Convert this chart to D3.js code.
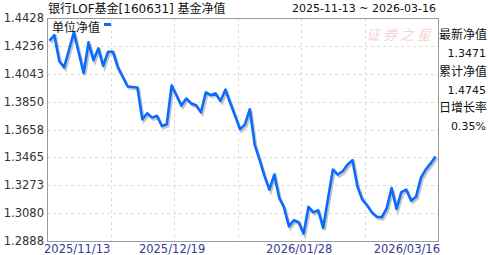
<!DOCTYPE html>
<html lang="zh-CN">

<head>
    <meta charset="UTF-8">
    <title>银行LOF基金[160631] 基金净值</title>
    <style>
        body {
            margin: 0;
            background: white;
        }

        text {
            font-family: "DejaVu Sans", "Noto Sans CJK SC", sans-serif;
        }

        .cjk {
            font-family: "Noto Sans CJK SC", sans-serif;
        }

        .grid line {
            stroke: #dcdcdc;
            stroke-dasharray: 3, 3;
        }
    </style>
</head>

<body>
    <div class="chart"></div>

    <script src="https://d3js.org/d3.v7.min.js"></script>
    <script>
        // Data (80 trading days)
        const dates = [
            "2025/11/13", "2025/11/14", "2025/11/17", "2025/11/18", "2025/11/19", "2025/11/20", "2025/11/21",
            "2025/11/24", "2025/11/25", "2025/11/26", "2025/11/27", "2025/11/28",
            "2025/12/01", "2025/12/02", "2025/12/03", "2025/12/04", "2025/12/05",
            "2025/12/08", "2025/12/09", "2025/12/10", "2025/12/11", "2025/12/12",
            "2025/12/15", "2025/12/16", "2025/12/17", "2025/12/18", "2025/12/19",
            "2025/12/22", "2025/12/23", "2025/12/24", "2025/12/25", "2025/12/26",
            "2025/12/29", "2025/12/30", "2025/12/31",
            "2026/01/05", "2026/01/06", "2026/01/07", "2026/01/08", "2026/01/09",
            "2026/01/12", "2026/01/13", "2026/01/14", "2026/01/15", "2026/01/16",
            "2026/01/19", "2026/01/20", "2026/01/21", "2026/01/22", "2026/01/23",
            "2026/01/26", "2026/01/27", "2026/01/28", "2026/01/29", "2026/01/30",
            "2026/02/02", "2026/02/03", "2026/02/04", "2026/02/05", "2026/02/06",
            "2026/02/09", "2026/02/10", "2026/02/11", "2026/02/12", "2026/02/13",
            "2026/02/24", "2026/02/25", "2026/02/26", "2026/02/27",
            "2026/03/02", "2026/03/03", "2026/03/04", "2026/03/05", "2026/03/06",
            "2026/03/09", "2026/03/10", "2026/03/11", "2026/03/12", "2026/03/13",
            "2026/03/16"
        ];

        const unitNav = [
            1.4271, 1.4310, 1.4132, 1.4087, 1.4208, 1.4329, 1.4188, 1.4047, 1.4260, 1.4137,
            1.4218, 1.4098, 1.4195, 1.4195, 1.4087, 1.4021, 1.3955, 1.3951, 1.3948, 1.3728,
            1.3770, 1.3740, 1.3753, 1.3682, 1.3694, 1.3962, 1.3893, 1.3823, 1.3872, 1.3838,
            1.3825, 1.3777, 1.3915, 1.3896, 1.3907, 1.3855, 1.3933, 1.3841, 1.3751, 1.3659,
            1.3694, 1.3798, 1.3552, 1.3448, 1.3336, 1.3243, 1.3347, 1.3188, 1.3119, 1.2989,
            1.3031, 1.3017, 1.2939, 1.3124, 1.3086, 1.3100, 1.2978, 1.3181, 1.3382, 1.3347,
            1.3370, 1.3417, 1.3446, 1.3266, 1.3175, 1.3135, 1.3084, 1.3056, 1.3052, 1.3113,
            1.3254, 1.3110, 1.3225, 1.3243, 1.3167, 1.3193, 1.3324, 1.3382, 1.3424, 1.3471
        ];

        const yTicks = [1.2888, 1.3080, 1.3273, 1.3465, 1.3658, 1.3850, 1.4043, 1.4236, 1.4428];
        const xLabelDates = ["2025/11/13", "2025/12/19", "2026/01/28", "2026/03/16"];

        const title = "银行LOF基金[160631] 基金净值";
        const rangeText = "2025-11-13 ~ 2026-03-16";
        const seriesName = "单位净值";
        const sideLabels = ["最新净值", "累计净值", "日增长率"];
        const sideValues = ["1.3471", "1.4745", "0.35%"];

        // Layout
        const width = 488;
        const height = 255;
        const plot = { left: 47, right: 438, top: 18, bottom: 241 };

        const svg = d3.select(".chart").append("svg")
            .attr("width", width)
            .attr("height", height);

        // Scales: each day gets a slot, points sit in the middle of their slot
        const x = d3.scaleBand()
            .domain(d3.range(dates.length))
            .range([plot.left, plot.right]);
        const xMid = i => x(i) + x.bandwidth() / 2;

        const y = d3.scaleLinear()
            .domain([yTicks[0], yTicks[yTicks.length - 1]])
            .range([plot.bottom, plot.top]);

        // Grid
        const grid = svg.append("g").attr("class", "grid");
        grid.selectAll(".h")
            .data(yTicks.slice(1, -1))
            .join("line")
            .attr("x1", plot.left)
            .attr("x2", plot.right)
            .attr("y1", d => Math.round(y(d)) + 0.5)
            .attr("y2", d => Math.round(y(d)) + 0.5);

        const gridIdx = d3.range(13, dates.length - 13, 13);
        grid.selectAll(".v")
            .data(gridIdx)
            .join("line")
            .attr("x1", d => Math.round(x(d)) + 0.5)
            .attr("x2", d => Math.round(x(d)) + 0.5)
            .attr("y1", plot.top)
            .attr("y2", plot.bottom);

        // Watermark
        svg.append("text")
            .attr("class", "cjk")
            .attr("x", 366)
            .attr("y", 40)
            .attr("font-size", 14)
            .attr("font-style", "italic")
            .attr("letter-spacing", 3)
            .attr("fill", "#f8d2d2")
            .text("证券之星");

        // Frame
        svg.append("rect")
            .attr("x", plot.left + 0.5)
            .attr("y", plot.top + 0.5)
            .attr("width", plot.right - plot.left)
            .attr("height", plot.bottom - plot.top)
            .attr("fill", "none")
            .attr("stroke", "#9a9a9a");

        // Line with its grey shadow
        const line = d3.line()
            .x((d, i) => xMid(i))
            .y(d => y(d));

        svg.append("path")
            .datum(unitNav)
            .attr("d", line)
            .attr("transform", "translate(1.5,2)")
            .attr("fill", "none")
            .attr("stroke", "#c4c4c4")
            .attr("stroke-width", 2.6);

        svg.append("path")
            .datum(unitNav)
            .attr("d", line)
            .attr("fill", "none")
            .attr("stroke", "#0a6cff")
            .attr("stroke-width", 2.6)
            .attr("stroke-linejoin", "round");

        // Y axis labels
        svg.append("g")
            .selectAll("text")
            .data(yTicks)
            .join("text")
            .attr("x", plot.left - 3)
            .attr("y", d => y(d) + 4)
            .attr("text-anchor", "end")
            .attr("font-family", "'Liberation Sans', Arial, sans-serif")
            .attr("font-size", 11.5)
            .attr("fill", "#333")
            .text(d => d.toFixed(4));

        // X axis labels
        svg.append("g")
            .selectAll("text")
            .data(xLabelDates)
            .join("text")
            .attr("x", (d, i) => {
                const idx = dates.indexOf(d);
                if (i === 0) return plot.left - 3;
                if (i === xLabelDates.length - 1) return plot.right + 2;
                return x(idx) - 2;
            })
            .attr("y", 252.5)
            .attr("text-anchor", (d, i) => i === 0 ? "start" : (i === xLabelDates.length - 1 ? "end" : "middle"))
            .attr("font-family", "'Liberation Sans', Arial, sans-serif")
            .attr("font-size", 11.5)
            .attr("fill", "#3a3a9a")
            .text(d => d);

        // Titles
        svg.append("text")
            .attr("x", 48)
            .attr("y", 13)
            .attr("font-family", "'Liberation Sans', 'Noto Sans CJK SC', sans-serif")
            .attr("font-size", 12)
            .attr("fill", "#111")
            .text(title);

        svg.append("text")
            .attr("x", plot.right - 2)
            .attr("y", 12)
            .attr("text-anchor", "end")
            .attr("font-size", 11)
            .attr("fill", "#111")
            .text(rangeText);

        // Legend
        svg.append("text")
            .attr("class", "cjk")
            .attr("x", 52)
            .attr("y", 32)
            .attr("font-size", 12)
            .attr("fill", "#111")
            .text(seriesName);
        svg.append("rect")
            .attr("x", 104)
            .attr("y", 23)
            .attr("width", 7)
            .attr("height", 3)
            .attr("fill", "#0a6cff");

        // Side panel
        const side = svg.append("g");
        side.selectAll(".lab")
            .data(sideLabels)
            .join("text")
            .attr("class", "cjk")
            .attr("x", 487)
            .attr("y", (d, i) => 39 + i * 36.5)
            .attr("text-anchor", "end")
            .attr("font-size", 12)
            .attr("fill", "#111")
            .text(d => d);
        side.selectAll(".val")
            .data(sideValues)
            .join("text")
            .attr("x", 486)
            .attr("y", (d, i) => 57 + i * 36.5)
            .attr("text-anchor", "end")
            .attr("font-size", 11)
            .attr("fill", "#111")
            .text(d => d);
    </script>
</body>

</html>
